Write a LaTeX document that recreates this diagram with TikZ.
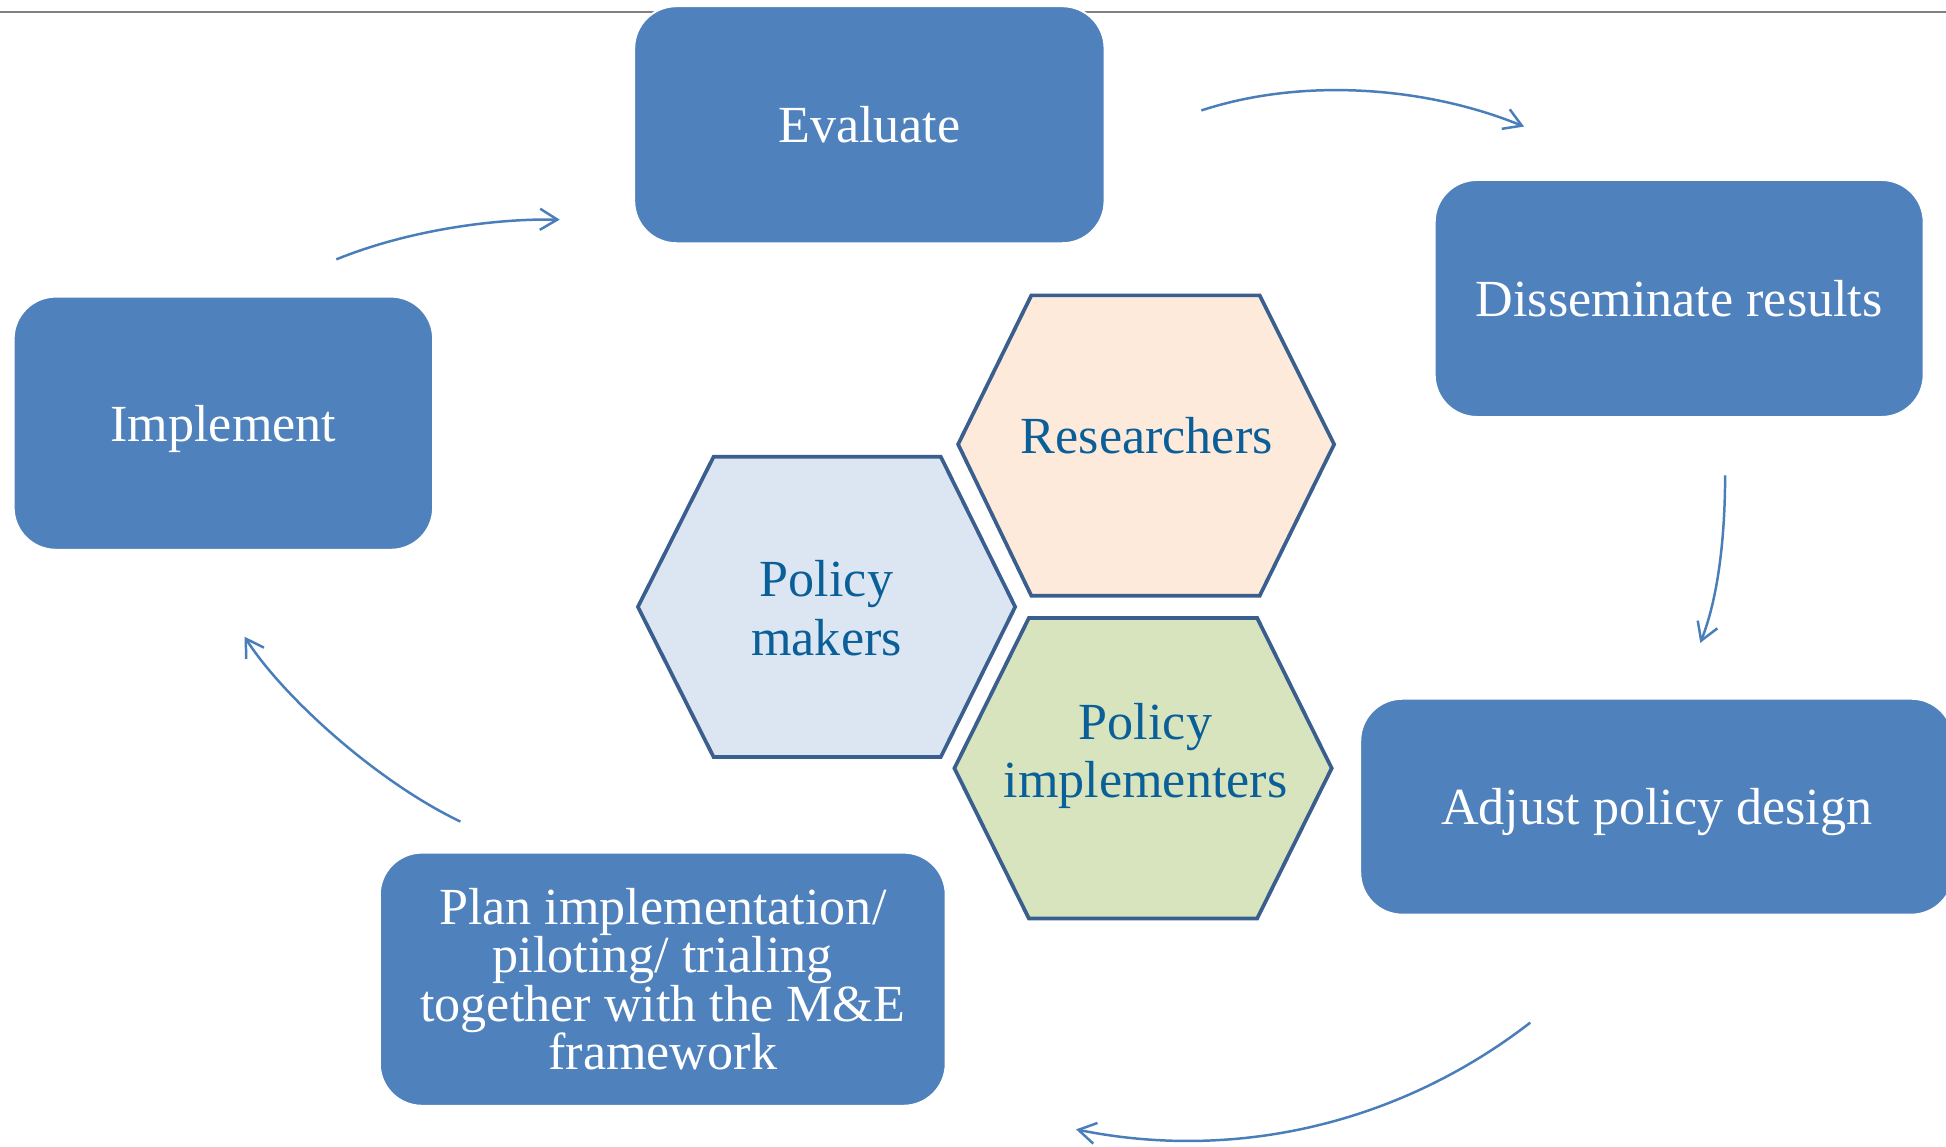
\documentclass[tikz,border=0pt]{standalone}
\usepackage{fontspec}
\setmainfont{Liberation Serif}
\usetikzlibrary{arrows.meta}
\definecolor{boxblue}{HTML}{4F81BD}
\definecolor{hexline}{HTML}{3A5F8E}
\definecolor{hextext}{HTML}{0B5F99}
\definecolor{peach}{HTML}{FDEADA}
\definecolor{paleblue}{HTML}{DCE6F2}
\definecolor{palegreen}{HTML}{D7E4BD}
\definecolor{arrowblue}{HTML}{4A7EBB}
\definecolor{topgray}{HTML}{808080}
\begin{document}
\begin{tikzpicture}[x=0.5pt,y=-0.5pt,
  stagebox/.style={fill=boxblue, draw=white, line width=0.8pt, rounded corners=17pt,
    text=white, align=center, font=\fontsize{21pt}{19.5pt}\selectfont, inner sep=0pt},
  hexface/.style={draw=hexline, line width=1.5pt, line join=miter},
  hexlabel/.style={text=hextext, align=center, font=\fontsize{21pt}{23.5pt}\selectfont, inner sep=0pt},
  cyclearrow/.style={draw=arrowblue, line width=1pt, -{Straight Barb[length=7pt,width=8.5pt]}}]
\useasboundingbox (0,0) rectangle (1568,924);
\clip (0,0) rectangle (1568,924);
\fill[white] (0,0) rectangle (1568,924);
% top rule
\coordinate (ruleL) at (0,10);
\coordinate (ruleR) at (1568,10);
\draw[topgray, line width=0.8pt] (ruleL) -- (ruleR);
% stage boxes
\node[stagebox, minimum width=189.5pt, minimum height=95.5pt] (evaluate) at (700.5,100.5) {Evaluate};
\node[stagebox, minimum width=197pt, minimum height=95.5pt] (disseminate) at (1353,240.5) {Disseminate results};
\node[stagebox, minimum width=239pt, minimum height=87pt, text depth=0pt] (adjust) at (1335,650) {Adjust policy design};
\node[stagebox, minimum width=169pt, minimum height=102pt, text depth=0pt] (implement) at (180,341) {Implement};
\node[stagebox, minimum width=228pt, minimum height=102pt] (plan) at (534,789)
  {Plan implementation/\\piloting/ trialing\\together with the M\&E\\framework};
% hexagons
\draw[hexface, fill=peach] (831,238) -- (1015,238) -- (1075,358) -- (1015,480) -- (831,480) -- (772,358) -- cycle;
\draw[hexface, fill=paleblue] (575,368) -- (758,368) -- (818,489) -- (758,610) -- (575,610) -- (514,489) -- cycle;
\draw[hexface, fill=palegreen] (829,498) -- (1013,498) -- (1073,619) -- (1013,740) -- (829,740) -- (769,619) -- cycle;
\node[hexlabel] (researchers) at (924,351) {Researchers};
\node[hexlabel] (makers) at (666,490) {Policy\\makers};
\node[hexlabel] (implementers) at (923,609) {Policy\\implementers};
% cycle arrows
\coordinate (a1s) at (968,89);   \coordinate (a1e) at (1228,102);
\coordinate (a2s) at (1390,383); \coordinate (a2e) at (1370,518);
\coordinate (a3s) at (1233,824); \coordinate (a3e) at (867,910);
\coordinate (a4s) at (371,662);  \coordinate (a4e) at (197,513);
\coordinate (a5s) at (271,209);  \coordinate (a5e) at (451,177);
\draw[cyclearrow] (a1s) .. controls (1050,62) and (1150,70) .. (a1e);
\draw[cyclearrow] (a2s) .. controls (1390,430) and (1385,480) .. (a2e);
\draw[cyclearrow] (a3s) .. controls (1123,909) and (990,935) .. (a3e);
\draw[cyclearrow] (a4s) .. controls (302,629) and (227,560) .. (a4e);
\draw[cyclearrow] (a5s) .. controls (330,185) and (400,176) .. (a5e);
\end{tikzpicture}
\end{document}
